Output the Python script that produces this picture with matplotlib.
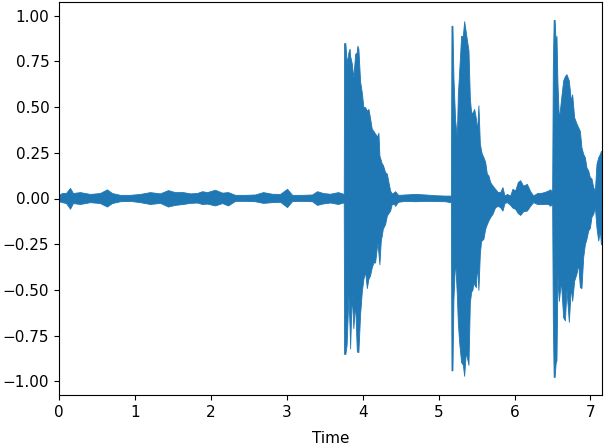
import matplotlib
matplotlib.use("Agg")
import matplotlib.pyplot as plt

# envelope of the waveform (seconds, upper, lower)
t_env = [
    0.0, 0.04, 0.092, 0.145, 0.184, 0.277, 0.408, 0.540, 0.632, 0.698,
    0.804, 0.935, 1.067, 1.199, 1.331, 1.436, 1.528, 1.634, 1.726, 1.818,
    1.884, 1.950, 2.055, 2.148, 2.227, 2.319, 2.451, 2.582, 2.688, 2.806,
    2.912, 3.004, 3.070, 3.202, 3.333, 3.399, 3.478, 3.570, 3.676, 3.742,
    # first hit
    3.750, 3.755, 3.772, 3.788, 3.812, 3.827, 3.834, 3.856, 3.877, 3.900,
    3.922, 3.930, 3.943, 3.966, 3.988, 4.009, 4.032, 4.054, 4.075, 4.097,
    4.120, 4.141, 4.163, 4.194, 4.207, 4.220, 4.238, 4.252, 4.265, 4.295,
    4.318, 4.339, 4.361, 4.383, 4.414, 4.427, 4.466, 4.559, 4.690, 4.822,
    4.954, 5.086, 5.152,
    # second hit
    5.161, 5.169, 5.182, 5.195, 5.217, 5.240, 5.253, 5.270, 5.296, 5.319,
    5.336, 5.358, 5.375, 5.393, 5.411, 5.428, 5.445, 5.458, 5.468, 5.490,
    5.507, 5.524, 5.543, 5.560, 5.569, 5.590, 5.613, 5.635, 5.656, 5.679,
    5.709, 5.744, 5.780, 5.810, 5.841, 5.867, 5.899, 5.942, 5.972, 6.008,
    6.043, 6.074, 6.113, 6.162, 6.206, 6.245, 6.298, 6.337, 6.390, 6.443,
    6.469, 6.489,
    # third hit
    6.495, 6.504, 6.515, 6.528, 6.541, 6.552, 6.565, 6.584, 6.610, 6.640,
    6.663, 6.684, 6.715, 6.742, 6.759, 6.785, 6.816, 6.838, 6.860, 6.881,
    6.904, 6.926, 6.947, 6.970, 6.992, 7.013, 7.036, 7.058, 7.079, 7.102,
    7.124, 7.137, 7.160,
]
upper = [
    0.02, 0.03, 0.03, 0.058, 0.03, 0.035, 0.025, 0.03, 0.05, 0.03,
    0.02, 0.02, 0.025, 0.035, 0.028, 0.046, 0.035, 0.035, 0.028, 0.03,
    0.04, 0.035, 0.048, 0.032, 0.035, 0.02, 0.02, 0.022, 0.035, 0.026,
    0.025, 0.053, 0.02, 0.02, 0.022, 0.04, 0.03, 0.026, 0.035, 0.026,
    0.026, 0.85, 0.85, 0.74, 0.80, 0.82, 0.78, 0.74, 0.66, 0.79,
    0.80, 0.836, 0.82, 0.64, 0.58, 0.50, 0.50, 0.48, 0.49, 0.44,
    0.38, 0.37, 0.355, 0.34, 0.36, 0.235, 0.21, 0.19, 0.185, 0.144,
    0.136, 0.09, 0.044, 0.027, 0.035, 0.04, 0.02, 0.022, 0.025, 0.022,
    0.018, 0.016, 0.016,
    0.016, 0.945, 0.945, 0.66, 0.43, 0.335, 0.57, 0.69, 0.89, 0.89,
    0.97, 0.91, 0.86, 0.81, 0.55, 0.47, 0.47, 0.48, 0.49, 0.44,
    0.37, 0.51, 0.30, 0.26, 0.245, 0.226, 0.20, 0.136, 0.126, 0.09,
    0.071, 0.053, 0.035, 0.035, 0.062, 0.016, 0.025, 0.016, 0.053, 0.044,
    0.09, 0.10, 0.07, 0.08, 0.04, 0.016, 0.03, 0.03, 0.035, 0.044,
    0.05, 0.04,
    0.04, 0.72, 0.977, 0.977, 0.85, 0.89, 0.63, 0.43, 0.535, 0.645,
    0.67, 0.68, 0.645, 0.535, 0.57, 0.444, 0.41, 0.39, 0.37, 0.28,
    0.244, 0.226, 0.17, 0.153, 0.116, 0.11, 0.062, 0.044, 0.19, 0.226,
    0.244, 0.26, 0.26,
]
lower = [
    -0.015, -0.02, -0.025, -0.056, -0.025, -0.03, -0.02, -0.025, -0.044, -0.025,
    -0.015, -0.013, -0.02, -0.03, -0.024, -0.044, -0.035, -0.03, -0.024, -0.022,
    -0.03, -0.028, -0.038, -0.025, -0.038, -0.013, -0.013, -0.015, -0.024, -0.02,
    -0.018, -0.047, -0.014, -0.013, -0.015, -0.035, -0.027, -0.022, -0.03, -0.022,
    -0.022, -0.85, -0.85, -0.80, -0.53, -0.70, -0.82, -0.52, -0.71, -0.57,
    -0.83, -0.84, -0.84, -0.63, -0.51, -0.44, -0.40, -0.49, -0.44, -0.42,
    -0.375, -0.35, -0.35, -0.24, -0.30, -0.36, -0.23, -0.20, -0.165, -0.14,
    -0.093, -0.08, -0.066, -0.03, -0.03, -0.04, -0.018, -0.013, -0.015, -0.013,
    -0.014, -0.015, -0.02,
    -0.02, -0.94, -0.94, -0.55, -0.33, -0.53, -0.68, -0.785, -0.895, -0.91,
    -0.97, -0.84, -0.875, -0.91, -0.57, -0.51, -0.50, -0.46, -0.47, -0.485,
    -0.36, -0.50, -0.30, -0.23, -0.23, -0.22, -0.166, -0.14, -0.12, -0.102,
    -0.084, -0.048, -0.04, -0.048, -0.066, -0.025, -0.02, -0.035, -0.05, -0.057,
    -0.08, -0.09, -0.07, -0.066, -0.04, -0.02, -0.03, -0.03, -0.03, -0.03,
    -0.04, -0.03,
    -0.03, -0.667, -0.976, -0.976, -0.90, -0.885, -0.43, -0.56, -0.45, -0.65,
    -0.667, -0.50, -0.675, -0.48, -0.56, -0.45, -0.41, -0.357, -0.485, -0.49,
    -0.32, -0.25, -0.22, -0.175, -0.16, -0.10, -0.084, -0.047, -0.16, -0.23,
    -0.175, -0.25, -0.25,
]

x_ticks = [0, 1, 2, 3, 4, 5, 6, 7]
y_ticks = [-1.0, -0.75, -0.5, -0.25, 0.0, 0.25, 0.5, 0.75, 1.0]
duration = 7.145

fig = plt.figure(figsize=(6.04, 4.46), dpi=100)
ax = fig.add_axes([59 / 604, 1 - 395 / 446, 542.5 / 604, 393 / 446])

# waveform drawn as its envelope, like librosa's waveshow
ax.fill_between(t_env, lower, upper, color="#1f77b4", linewidth=0.6)

ax.set_xlim(0, duration)
ax.set_ylim(-1.075, 1.075)
ax.set_xticks(x_ticks)
ax.set_yticks(y_ticks)
ax.set_yticklabels([f"{v:.2f}".replace("-", "\u2212") for v in y_ticks])
ax.tick_params(labelsize=11)
ax.set_xlabel("Time", fontsize=11, labelpad=8)

fig.savefig("out.png", dpi=100)
